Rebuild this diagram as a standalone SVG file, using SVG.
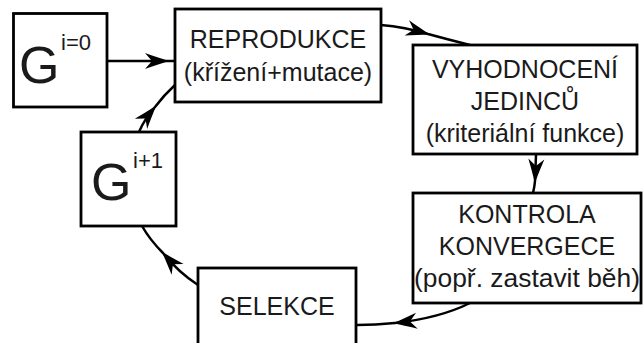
<svg xmlns="http://www.w3.org/2000/svg" width="643" height="343" viewBox="0 0 643 343">
<style>
.box{fill:#fff;stroke:#000;stroke-width:2.8}
.t{font-family:"Liberation Sans",Arial,sans-serif;font-size:25px;fill:#1a1a1a;text-anchor:middle}
.g{font-family:"Liberation Sans",Arial,sans-serif;font-size:52px;fill:#1a1a1a}
.sup{font-family:"Liberation Sans",Arial,sans-serif;font-size:22px;fill:#1a1a1a}
.c{fill:none;stroke:#000;stroke-width:2.5;marker-mid:url(#ah)}
</style>
<defs>
<marker id="ah" markerUnits="userSpaceOnUse" viewBox="-26 -12 30 24" markerWidth="30" markerHeight="24" refX="0" refY="0" orient="auto" overflow="visible">
<path d="M2,0 C-6,-2.5 -15,-5.5 -22,-8 L-15,0 L-22,8 C-15,5.5 -6,2.5 2,0 Z" fill="#000"/>
</marker>
</defs>
<g id="connectors">
<path class="c" d="M107,61 L167,61 L175,61"/>
<path class="c" d="M381,25 Q405,27 428,34 Q450,40 470,45"/>
<path class="c" d="M536,155 Q535.5,168 535,181 Q534.5,187 533,193"/>
<path class="c" d="M470,303 Q440,318 395,323 Q375,325 357,325"/>
<path class="c" d="M198,285 Q178,272 163,253 Q150,240 142,226"/>
<path class="c" d="M139,132 Q145,118 155,107 Q164,95 175,85"/>
</g>
<g id="g0">
<rect class="box" x="13.5" y="13.5" width="93.5" height="93.5"/>
<text class="g" x="19" y="83">G</text>
<text class="sup" x="61" y="50">i=0</text>
</g>
<g id="reprodukce">
<rect class="box" x="175" y="9" width="206" height="93"/>
<text class="t" x="278" y="48">REPRODUKCE</text>
<text class="t" x="278" y="81">(křížení+mutace)</text>
</g>
<g id="vyhodnoceni">
<rect class="box" x="413" y="45" width="224" height="109"/>
<text class="t" x="525" y="78">VYHODNOCENÍ</text>
<text class="t" x="525" y="110">JEDINCŮ</text>
<text class="t" x="525" y="142">(kriteriální funkce)</text>
</g>
<g id="kontrola">
<rect class="box" x="413" y="193" width="228" height="110"/>
<text class="t" x="527" y="223">KONTROLA</text>
<text class="t" x="527" y="255">KONVERGECE</text>
<text class="t" x="527" y="287" textLength="226" lengthAdjust="spacingAndGlyphs">(popř. zastavit běh)</text>
</g>
<g id="selekce">
<rect class="box" x="198" y="268" width="158" height="95"/>
<text class="t" x="277" y="315">SELEKCE</text>
</g>
<g id="g1">
<rect class="box" x="81" y="132" width="95" height="94"/>
<text class="g" x="91" y="200">G</text>
<text class="sup" x="133" y="168">i+1</text>
</g>
</svg>
